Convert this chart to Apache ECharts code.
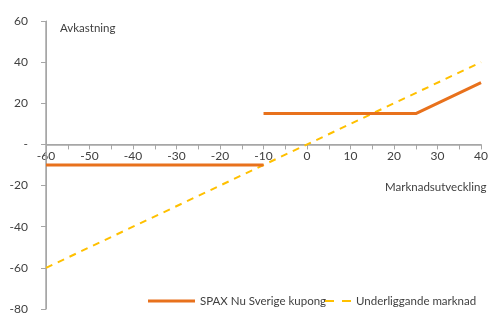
<!DOCTYPE html>
<html>
<head>
<meta charset="utf-8">
<script src="https://cdn.jsdelivr.net/npm/echarts@6/dist/echarts.min.js"></script>
<style>
  html, body { margin: 0; padding: 0; background: #fff; }
  #main { width: 491px; height: 315px; }
</style>
</head>
<body>
<div id="main"></div>
<script>
// marknadsutveckling (x) och avkastning (y), '-' = avbrott i linjen
var spaxPoints = [[-60, -10], [-10, -10], [-10, '-'], [-10, 15], [25, 15], [40, 30]];
var marketPoints = [[-60, -60], [40, 40]];
var seriesNames = ['SPAX Nu Sverige kupong', 'Underliggande marknad'];
var xTicks = { min: -60, max: 40, step: 5, labelStep: 10 };
var yTicks = { min: -80, max: 60, step: 20 };

var textColor = '#404040';
var axisColor = '#a6a6a6';
var font = 'Lato';

var gridTop = 21, gridBottom = 6, chartHeight = 315;
var gridHeight = chartHeight - gridTop - gridBottom;
// x-axeln ska ligga vid y = 0, mätt från nederkanten av grid
var xAxisOffset = -gridHeight * (0 - yTicks.min) / (yTicks.max - yTicks.min);

var chart = echarts.init(document.getElementById('main'));
chart.setOption({
    animation: false,
    textStyle: { fontFamily: font },
    grid: { left: 46, right: 4, top: gridTop, bottom: gridBottom, containLabel: false },
    legend: [
        {
            left: 143, top: 290,
            itemWidth: 47, itemHeight: 10, itemGap: 4,
            textStyle: { color: textColor, fontSize: 11.5, fontFamily: font },
            data: [{ name: seriesNames[0], icon: 'path://M0,0H47V3H0Z' }]
        },
        {
            left: 320, top: 290,
            itemWidth: 26, itemHeight: 10, itemGap: 6,
            textStyle: { color: textColor, fontSize: 11.5, fontFamily: font },
            data: [{ name: seriesNames[1], icon: 'path://M0,0H9V2H0Z M17,0H26V2H17Z' }]
        }
    ],
    xAxis: {
        type: 'value',
        min: xTicks.min, max: xTicks.max, interval: xTicks.step,
        offset: xAxisOffset,
        axisLine: { show: true, onZero: false, lineStyle: { color: axisColor } },
        axisTick: { show: true, lineStyle: { color: axisColor } },
        axisLabel: {
            color: textColor, fontSize: 12, margin: 6, showMaxLabel: true,
            formatter: function (v) { return v % xTicks.labelStep === 0 ? v : ''; }
        },
        splitLine: { show: false }
    },
    yAxis: {
        type: 'value',
        min: yTicks.min, max: yTicks.max, interval: yTicks.step,
        axisLine: { show: true, onZero: false, lineStyle: { color: axisColor } },
        axisTick: { show: true, lineStyle: { color: axisColor } },
        axisLabel: {
            color: textColor, fontSize: 12, margin: 18,
            formatter: function (v) { return v === 0 ? '-' : v; }
        },
        splitLine: { show: false }
    },
    graphic: [
        { type: 'text', left: 60, top: 22, style: { text: 'Avkastning', fill: textColor, font: '11.5px Lato' } },
        { type: 'text', left: 385, top: 181, style: { text: 'Marknadsutveckling', fill: textColor, font: '11.5px Lato' } }
    ],
    series: [
        {
            name: seriesNames[1],
            type: 'line',
            data: marketPoints,
            symbol: 'none',
            z: 3,
            lineStyle: { color: '#ffc000', width: 2, type: [7, 6] },
            itemStyle: { color: '#ffc000' },
            // axellinjer vid y = 0 och x = -60 (säkerhet om axelns linje inte ritas)
            markLine: {
                silent: true,
                symbol: 'none',
                label: { show: false },
                lineStyle: { color: axisColor, width: 1.5, type: 'solid' },
                z: 1,
                data: [{ yAxis: 0 }, { xAxis: xTicks.min }]
            }
        },
        {
            name: seriesNames[0],
            type: 'line',
            data: spaxPoints,
            symbol: 'none',
            z: 4,
            connectNulls: false,
            lineStyle: { color: '#e8711c', width: 3 },
            itemStyle: { color: '#e8711c' }
        }
    ]
});
</script>
</body>
</html>
